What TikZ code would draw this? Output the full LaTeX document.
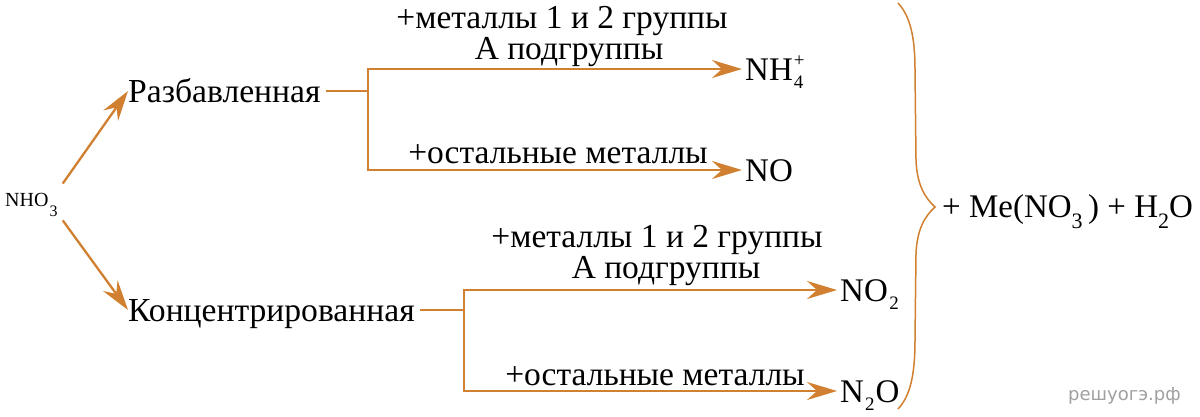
\documentclass[tikz,border=0pt]{standalone}
\usepackage{fontspec}
\setmainfont{Liberation Serif}
\newfontfamily\wmfont{DejaVu Sans}
\usetikzlibrary{arrows.meta}
\definecolor{arrc}{RGB}{208,128,48}
\definecolor{wmgray}{RGB}{160,160,160}
\newcommand\lsub[3]{\raisebox{-#2}{\fontsize{#1}{#1}\selectfont #3}}
\begin{document}
\begin{tikzpicture}[x=1pt,y=-1pt,
  conn/.style={draw=arrc, line width=2.3pt},
  arr/.style={conn, -{Stealth[length=30pt,width=18pt,inset=10pt]}},
  big/.style={font=\fontsize{33.6}{36}\selectfont, inner sep=0pt, text height=22pt, text depth=0pt, anchor=west},
  prod/.style={big, font=\fontsize{33}{36}\selectfont, inner xsep=3pt},
  lbl/.style={font=\fontsize{33.5}{36}\selectfont, inner sep=0pt, anchor=base},
  small/.style={font=\fontsize{20}{22}\selectfont, inner sep=0pt, anchor=base west},
  brace/.style={draw=arrc, line width=1.5pt},
  wm/.style={font=\wmfont\fontsize{18}{20}\selectfont, text=wmgray, inner sep=0pt, anchor=base west},
]
\useasboundingbox (0,0) rectangle (1200,416);
% left part
\node[small] (nho) at (5,206) {NHO\kern1pt\lsub{16pt}{10pt}{3}};
\node[big] (razb) at (128,91) {Разбавленная};
\node[big] (konc) at (128,310) {Концентрированная};
\draw[arr] ([xshift=5pt,yshift=9pt]nho.north east) -- (razb.west);
\draw[arr] ([xshift=5pt,yshift=-4pt]nho.south east) -- (konc.west);
% products
\node[prod] (nh4) at (742,69) {NH\rlap{\kern1pt\raisebox{14pt}{\fontsize{19}{19}\selectfont +}}\kern1pt\lsub{19pt}{8pt}{4}};
\node[prod] (no) at (742,170) {NO};
\node[prod] (no2) at (837,290) {NO\kern1.5pt\lsub{19pt}{8pt}{2}};
\node[prod] (n2o) at (837,391) {N\kern1pt\lsub{19pt}{8pt}{2}\kern1ptO};
% junctions
\coordinate (jr) at (368,91);
\coordinate (ja) at (368,69);
\coordinate (jb) at (368,170);
\coordinate (jk) at (464,310);
\coordinate (jc) at (464,290);
\coordinate (jd) at (464,391);
\draw[conn] ([xshift=5pt]razb.east) -- (jr);
\draw[arr] (jb) -- (ja) -- (nh4.west);
\draw[arr] (ja) -- (jb) -- (no.west);
\draw[conn] ([xshift=5pt]konc.east) -- (jk);
\draw[arr] (jd) -- (jc) -- (no2.west);
\draw[arr] (jc) -- (jd) -- (n2o.west);
% labels
\node[lbl] (l1a) at (562,28) {+металлы 1 и 2 группы};
\node[lbl] (l1b) at (569,59) {А подгруппы};
\node[lbl] (l2) at (558,163) {+остальные металлы};
\node[lbl] (l3a) at (657,247) {+металлы 1 и 2 группы};
\node[lbl] (l3b) at (666,278) {А подгруппы};
\node[lbl] (l4) at (655,385) {+остальные металлы};
% brace
\draw[brace] (898,3) .. controls (910,16) and (915,36) .. (915,70)
  -- (916,160) .. controls (917,185) and (925,198) .. (935,207)
  .. controls (925,216) and (917,229) .. (916,254)
  -- (915,340) .. controls (915,376) and (910,396) .. (898,409);
\node[prod, anchor=base west, inner sep=0pt] (sum) at (942,217) {+ Me(NO\lsub{22pt}{11pt}{3}\,) + H\lsub{22pt}{11pt}{2}O};
\node[wm] (wmk) at (1068,400) {решуогэ.рф};
\end{tikzpicture}
\end{document}
